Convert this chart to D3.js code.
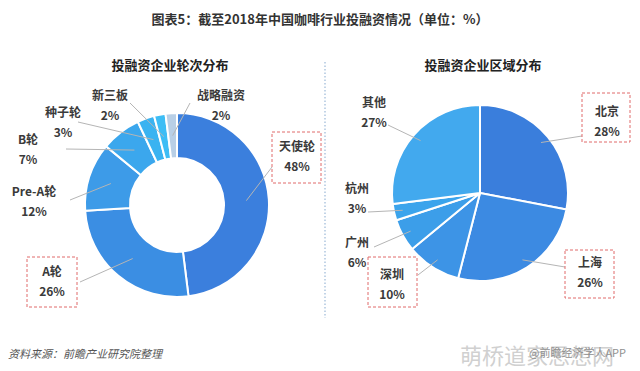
<!DOCTYPE html>
<html lang="zh-CN">
<head>
  <meta charset="UTF-8" />
  <title>截至2018年中国咖啡行业投融资情况</title>
  <script src="https://cdn.jsdelivr.net/npm/d3@7"></script>
  <style>
    body, html { margin:0; padding:0; background:#fff; }
    svg { display:block; font-family: "Noto Sans CJK SC", "Noto Sans", sans-serif; }
    .lbl { font-size: 12px; font-weight: bold; fill: #3a3a3a; text-anchor: middle; }
    .lead { fill: none; stroke: #b5b5b5; stroke-width: 1; }
    .box { fill: none; stroke: #e06a6a; stroke-width: 1; stroke-dasharray: 3 2; }
  </style>
</head>
<body>
<svg id="chart" width="640" height="371"></svg>
<script>
  // 轮次分布
  const roundNames  = ['天使轮', 'A轮', 'Pre-A轮', 'B轮', '种子轮', '新三板', '战略融资'];
  const roundValues = [48, 26, 12, 7, 3, 2, 2];
  const roundColors = ['#3b7fdd', '#3b8ee3', '#3d9be8', '#3ba7ed', '#3ab3f1', '#3dbdf5', '#b8cfe6'];

  // 区域分布
  const cityNames  = ['北京', '上海', '深圳', '广州', '杭州', '其他'];
  const cityValues = [28, 26, 10, 6, 3, 27];
  const cityColors = ['#3a7edc', '#3c8ae2', '#3d94e6', '#3c9ee9', '#3ba4ec', '#42a9ee'];

  // label placement (text centre, leader line end, optional dashed box)
  const roundLabels = [
    { x: 297, y: 147, lx: 272, ly: 167, box: [272, 132, 49, 51] },
    { x: 52,  y: 272, lx: 80,  ly: 282, box: [27, 257, 50, 50] },
    { x: 34,  y: 192, lx: 70,  ly: 200 },
    { x: 28,  y: 140, lx: 66,  ly: 149 },
    { x: 63,  y: 113, lx: 78,  ly: 122 },
    { x: 110, y: 96,  lx: 130, ly: 103 },
    { x: 221, y: 96,  lx: 190, ly: 103 }
  ];
  const cityLabels = [
    { x: 607, y: 112, lx: 582, ly: 136, box: [582, 93, 48, 49] },
    { x: 590, y: 263, lx: 565, ly: 267, box: [565, 250, 49, 48] },
    { x: 392, y: 275, lx: 418, ly: 275, box: [368, 257, 49, 50] },
    { x: 357, y: 243, lx: 374, ly: 247 },
    { x: 357, y: 189, lx: 368, ly: 212 },
    { x: 374, y: 103, lx: 388, ly: 125 }
  ];

  const svg = d3.select('#chart');

  // watermark-ish bottom right
  svg.append('text').attr('x', 460).attr('y', 364)
    .attr('font-size', 22).attr('fill', '#d0d0d0').text('萌桥道家思想网');
  svg.append('text').attr('x', 529).attr('y', 357)
    .attr('font-size', 11).attr('fill', '#909090').text('@前瞻经济学人APP');

  // titles
  svg.append('text').attr('x', 320).attr('y', 24)
    .attr('text-anchor', 'middle').attr('font-size', 13).attr('font-weight', 'bold')
    .attr('fill', '#333').text('图表5：截至2018年中国咖啡行业投融资情况（单位：%）');
  svg.append('text').attr('x', 170).attr('y', 70)
    .attr('text-anchor', 'middle').attr('font-size', 13).attr('font-weight', 'bold')
    .attr('fill', '#222').text('投融资企业轮次分布');
  svg.append('text').attr('x', 483).attr('y', 70)
    .attr('text-anchor', 'middle').attr('font-size', 13).attr('font-weight', 'bold')
    .attr('fill', '#222').text('投融资企业区域分布');

  // divider
  svg.append('line').attr('x1', 325).attr('x2', 325).attr('y1', 62).attr('y2', 318)
    .attr('stroke', '#9bb8d8').attr('stroke-width', 1.2).attr('stroke-dasharray', '1.5 2');

  // source
  svg.append('text').attr('x', 8).attr('y', 358)
    .attr('font-size', 11).attr('font-style', 'italic').attr('fill', '#555')
    .text('资料来源：前瞻产业研究院整理');

  function drawPie(cx, cy, rOuter, rInner, names, values, colors, labels) {
    const pie = d3.pie().sort(null).value(d => d);
    const arcs = pie(values);
    const arc = d3.arc().innerRadius(rInner).outerRadius(rOuter);
    const rLead = rInner ? (rInner + rOuter) / 2 : rOuter * 0.9;
    const mid = d3.arc().innerRadius(rLead).outerRadius(rLead);
    const g = svg.append('g').attr('transform', `translate(${cx},${cy})`);
    g.selectAll('path').data(arcs).join('path')
      .attr('d', arc)
      .attr('fill', (d, i) => colors[i])
      .attr('stroke', '#fff').attr('stroke-width', 2).attr('stroke-linejoin', 'round');

    arcs.forEach((a, i) => {
      const L = labels[i];
      const p = mid.centroid(a);
      svg.append('line').attr('class', 'lead')
        .attr('x1', cx + p[0]).attr('y1', cy + p[1])
        .attr('x2', L.lx).attr('y2', L.ly);
      if (L.box) {
        svg.append('rect').attr('class', 'box')
          .attr('x', L.box[0]).attr('y', L.box[1])
          .attr('width', L.box[2]).attr('height', L.box[3]);
      }
      svg.append('text').attr('class', 'lbl').attr('x', L.x).attr('y', L.y + 4).text(names[i]);
      svg.append('text').attr('class', 'lbl').attr('x', L.x).attr('y', L.y + 24).text(values[i] + '%');
    });
  }

  drawPie(177, 205, 92, 47, roundNames, roundValues, roundColors, roundLabels);
  drawPie(480, 193, 88, 0, cityNames, cityValues, cityColors, cityLabels);
</script>
</body>
</html>
